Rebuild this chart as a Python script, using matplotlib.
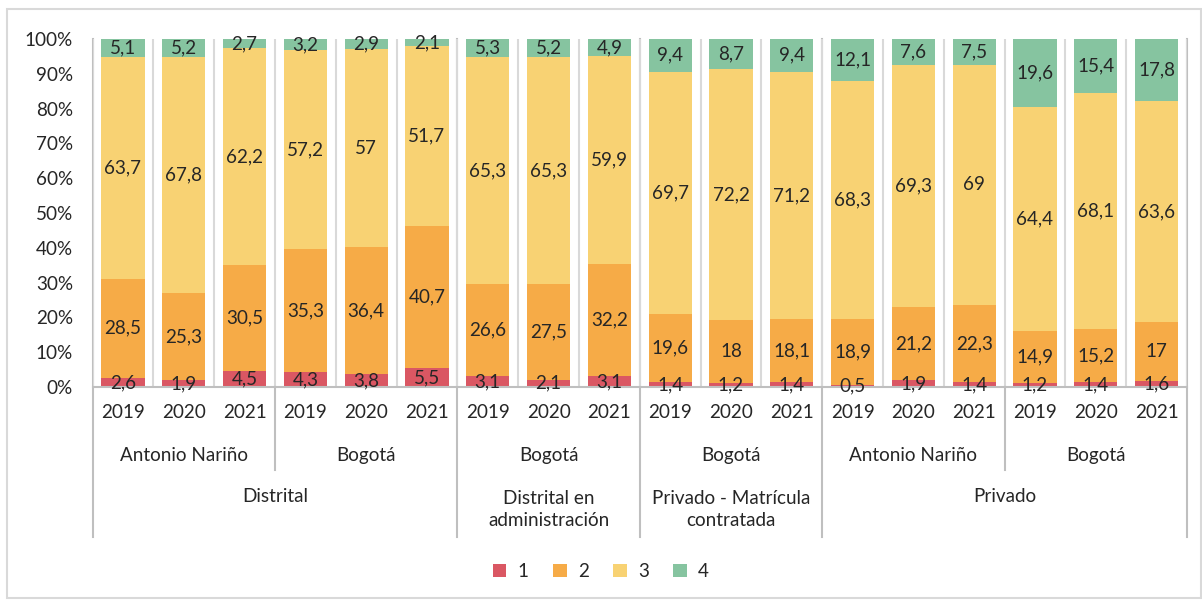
import numpy as np
import matplotlib.pyplot as plt
from matplotlib.patches import Rectangle

plt.rcParams['font.family'] = ['Lato', 'DejaVu Sans']

years = ['2019', '2020', '2021'] * 6
places = ['Antonio Nariño', 'Bogotá', 'Bogotá', 'Bogotá', 'Antonio Nariño', 'Bogotá']
sectors = ['Distrital', 'Distrital en\nadministración', 'Privado - Matrícula\ncontratada', 'Privado']
places_per_sector = [2, 1, 1, 2]
series = ['1', '2', '3', '4']

s1 = [2.6, 1.9, 4.5, 4.3, 3.8, 5.5, 3.1, 2.1, 3.1, 1.4, 1.2, 1.4, 0.5, 1.9, 1.4, 1.2, 1.4, 1.6]
s2 = [28.5, 25.3, 30.5, 35.3, 36.4, 40.7, 26.6, 27.5, 32.2, 19.6, 18, 18.1, 18.9, 21.2, 22.3, 14.9, 15.2, 17]
s3 = [63.7, 67.8, 62.2, 57.2, 57, 51.7, 65.3, 65.3, 59.9, 69.7, 72.2, 71.2, 68.3, 69.3, 69, 64.4, 68.1, 63.6]
s4 = [5.1, 5.2, 2.7, 3.2, 2.9, 2.1, 5.3, 5.2, 4.9, 9.4, 8.7, 9.4, 12.1, 7.6, 7.5, 19.6, 15.4, 17.8]

colors = ['#da5763', '#f6ab47', '#f8d273', '#86c4a0']
txt = '#262626'
line_c = '#bfbfbf'
fs = 13.6

data = np.array([s1, s2, s3, s4], dtype=float)
pct = data / data.sum(axis=0) * 100
x = np.arange(len(years))

fig = plt.figure(figsize=(12.02, 6.04), dpi=100)
ax = fig.add_axes([0.077, 0.3593, 0.9105, 0.5761])

bottom = np.zeros(len(years))
for i, name in enumerate(series):
    ax.bar(x, pct[i], 0.71, bottom=bottom, color=colors[i], label=name, zorder=3)
    for xi, b, h, v in zip(x, bottom, pct[i], data[i]):
        ax.text(xi, b + h / 2, f'{v:g}'.replace('.', ','), ha='center', va='center',
                fontsize=fs, color=txt, zorder=7)
    bottom += pct[i]

ax.set_xlim(-0.5, len(years) - 0.5)
ax.set_ylim(0, 100)
ax.set_yticks(np.arange(0, 101, 10))
ax.set_yticklabels([f'{t}%' for t in range(0, 101, 10)], fontsize=fs, color=txt)
ax.tick_params(axis='y', length=0, pad=14)
ax.set_xticks(x)
ax.set_xticklabels([])
ax.tick_params(axis='x', length=0)
ax.set_xticks(np.arange(len(years) + 1) - 0.5, minor=True)
ax.tick_params(axis='x', which='minor', length=0)
ax.grid(which='minor', axis='x', color='#d9d9d9', lw=1.5, zorder=0)
for s in ['top', 'right', 'left']:
    ax.spines[s].set_visible(False)
ax.spines['bottom'].set_color(line_c)
ax.spines['bottom'].set_linewidth(1.5)
ax.spines['bottom'].set_zorder(5)

tr = ax.get_xaxis_transform()
for xi, y in zip(x, years):
    ax.text(xi, -0.072, y, ha='center', va='center', fontsize=fs, color=txt, transform=tr)

# place level labels
for i, p in enumerate(places):
    ax.text(3 * i + 1, -0.198, p, ha='center', va='center', fontsize=fs, color=txt, transform=tr)

# sector level labels and separators
start = 0
bounds = [-0.5]
for name, n in zip(sectors, places_per_sector):
    first = start * 3 - 0.5
    last = (start + n) * 3 - 0.5
    ax.text((first + last) / 2, -0.316 if '\n' not in name else -0.353, name,
            ha='center', va='center', fontsize=fs, color=txt, transform=tr, linespacing=1.35)
    for k in range(1, n):
        xb = (start + k) * 3 - 0.5
        ax.plot([xb, xb], [0, -0.2385], color=line_c, lw=1.5, transform=tr, clip_on=False)
    bounds.append(last)
    start += n
for xb in bounds:
    ax.plot([xb, xb], [1, -0.431], color=line_c, lw=1.5, transform=tr, clip_on=False, zorder=1)

fig.legend(loc='center', bbox_to_anchor=(0.5, 0.053), ncol=4, frameon=False, fontsize=fs,
           handlelength=0.7, handleheight=0.7, handletextpad=0.6, columnspacing=1.3,
           labelcolor=txt)

fig.patches.append(Rectangle((0.006, 0.01), 0.993, 0.975, transform=fig.transFigure,
                             fill=False, edgecolor='#d9d9d9', lw=1.5))

fig.savefig('out.png', dpi=100)
